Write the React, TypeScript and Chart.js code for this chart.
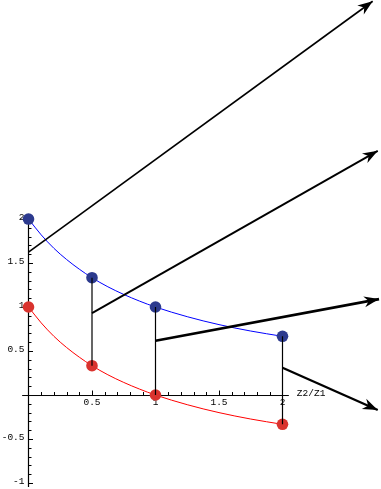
import React, { useEffect, useRef } from "react";
import { Chart, registerables } from "chart.js";

Chart.register(...registerables);

// Z2/Z1 ratios where the dots sit
const ratios = [0, 0.5, 1, 2];
const transmittedDots = [2, 1.333, 1, 0.667];
const reflectedDots = [1, 0.333, 0, -0.333];

// curve samples
const curveX = [0, 0.1, 0.2, 0.3, 0.4, 0.5, 0.625, 0.75, 0.875, 1, 1.25, 1.5, 1.75, 2];
const blueCurve = [2, 1.82, 1.667, 1.54, 1.43, 1.333, 1.23, 1.143, 1.067, 1, 0.89, 0.8, 0.727, 0.667];
const redCurve = [1, 0.82, 0.667, 0.54, 0.43, 0.333, 0.23, 0.143, 0.067, 0, -0.11, -0.2, -0.273, -0.333];

// vertical connectors (x positions)
const connectorX = [0.5, 1, 2];
const connectorTop = [1.333, 1, 0.667];
const connectorBottom = [0.333, 0, -0.333];

// arrows
const arrowStartX = [0, 0.5, 1, 2];
const arrowStartY = [1.625, 0.93, 0.617, 0.31];
const arrowEndX = [2.71, 2.75, 2.76, 2.75];
const arrowEndY = [4.475, 2.775, 1.09, -0.17];
const arrowWidths = [1.6, 1.9, 2.6, 2.3];

// axes
const xTickValues = [0.5, 1, 1.5, 2];
const xTickLabels = ["0.5", "1", "1.5", "2"];
const yTickValues = [-1, -0.5, 0.5, 1, 1.5, 2];
const yTickLabels = ["-1", "-0.5", "0.5", "1", "1.5", "2"];
const xAxisRange = [-0.05, 2.05];
const yAxisRange = [-1.045, 2.02];
const xAxisTitle = "Z2/Z1";

const axesPlugin = {
  id: "mmaAxes",
  beforeDatasetsDraw(chart: any) {
    const ctx = chart.ctx;
    const xs = chart.scales.x;
    const ys = chart.scales.y;
    const ox = xs.getPixelForValue(0);
    const oy = ys.getPixelForValue(0);
    ctx.save();
    ctx.strokeStyle = "#000";
    ctx.fillStyle = "#000";
    ctx.lineWidth = 1;
    // x axis
    ctx.beginPath();
    ctx.moveTo(xs.getPixelForValue(xAxisRange[0]), oy + 0.5);
    ctx.lineTo(xs.getPixelForValue(xAxisRange[1]), oy + 0.5);
    ctx.stroke();
    // y axis
    ctx.lineWidth = 1.2;
    ctx.beginPath();
    ctx.moveTo(ox, ys.getPixelForValue(yAxisRange[0]));
    ctx.lineTo(ox, ys.getPixelForValue(yAxisRange[1]));
    ctx.stroke();
    ctx.lineWidth = 1;
    // x ticks
    for (let i = 1; i <= 20; i++) {
      const v = i / 10;
      const major = i % 5 === 0;
      const px = Math.round(xs.getPixelForValue(v)) + 0.5;
      ctx.beginPath();
      ctx.moveTo(px, oy);
      ctx.lineTo(px, oy - (major ? 4.5 : 3));
      ctx.stroke();
    }
    // y ticks
    for (let i = -10; i <= 20; i++) {
      if (i === 0) continue;
      const v = i / 10;
      const major = i % 5 === 0;
      const py = Math.round(ys.getPixelForValue(v)) + 0.5;
      ctx.beginPath();
      ctx.moveTo(ox, py);
      ctx.lineTo(ox + (major ? 4.5 : 3), py);
      ctx.stroke();
    }
    ctx.font = "9.5px 'Liberation Mono', 'DejaVu Sans Mono', monospace";
    ctx.textAlign = "center";
    ctx.textBaseline = "top";
    xTickValues.forEach((v, i) => {
      ctx.fillText(xTickLabels[i], xs.getPixelForValue(v), oy + 3);
    });
    ctx.textAlign = "right";
    ctx.textBaseline = "middle";
    yTickValues.forEach((v, i) => {
      ctx.fillText(yTickLabels[i], ox - 4, ys.getPixelForValue(v) - 2);
    });
    ctx.textAlign = "left";
    ctx.textBaseline = "middle";
    ctx.fillText(xAxisTitle, xs.getPixelForValue(xAxisRange[1]) + 8, oy - 2);
    ctx.restore();
  },
};

const arrowHeadPlugin = {
  id: "arrowHeads",
  afterDatasetsDraw(chart: any) {
    const ctx = chart.ctx;
    chart.data.datasets.forEach((ds: any, i: number) => {
      if (!ds.isArrow) return;
      const pts = chart.getDatasetMeta(i).data;
      if (pts.length < 2) return;
      const a = pts[0];
      const b = pts[pts.length - 1];
      const ang = Math.atan2(b.y - a.y, b.x - a.x);
      const len = 15;
      const half = 5.5;
      const bx = b.x - len * Math.cos(ang);
      const by = b.y - len * Math.sin(ang);
      ctx.save();
      ctx.fillStyle = "#000";
      ctx.beginPath();
      ctx.moveTo(b.x, b.y);
      ctx.lineTo(bx + half * Math.sin(ang), by - half * Math.cos(ang));
      ctx.lineTo(bx + 0.3 * len * Math.cos(ang), by + 0.3 * len * Math.sin(ang));
      ctx.lineTo(bx - half * Math.sin(ang), by + half * Math.cos(ang));
      ctx.closePath();
      ctx.fill();
      ctx.restore();
    });
  },
};

export default function App() {
  const ref = useRef<HTMLCanvasElement | null>(null);
  useEffect(() => {
    if (!ref.current) return;
    const datasets: any[] = [];
    datasets.push({
      type: "line",
      data: curveX.map((x, i) => ({ x, y: blueCurve[i] })),
      borderColor: "#0000ff",
      borderWidth: 1,
      pointRadius: 0,
      cubicInterpolationMode: "monotone",
      fill: false,
      order: 6,
    });
    datasets.push({
      type: "line",
      data: curveX.map((x, i) => ({ x, y: redCurve[i] })),
      borderColor: "#ff0000",
      borderWidth: 1,
      pointRadius: 0,
      cubicInterpolationMode: "monotone",
      fill: false,
      order: 6,
    });
    datasets.push({
      type: "scatter",
      data: ratios.map((x, i) => ({ x, y: transmittedDots[i] })),
      backgroundColor: "#2c3a8e",
      borderWidth: 0,
      pointRadius: 5.8,
      order: 5,
    });
    datasets.push({
      type: "scatter",
      data: ratios.map((x, i) => ({ x, y: reflectedDots[i] })),
      backgroundColor: "#d9332e",
      borderWidth: 0,
      pointRadius: 5.8,
      order: 5,
    });
    connectorX.forEach((x, i) => {
      datasets.push({
        type: "line",
        data: [
          { x, y: connectorTop[i] },
          { x, y: connectorBottom[i] },
        ],
        borderColor: "#000",
        borderWidth: 1.2,
        pointRadius: 0,
        fill: false,
        order: 4,
      });
    });
    arrowStartX.forEach((x, i) => {
      datasets.push({
        type: "line",
        isArrow: true,
        data: [
          { x, y: arrowStartY[i] },
          { x: arrowEndX[i], y: arrowEndY[i] },
        ],
        borderColor: "#000",
        borderWidth: arrowWidths[i],
        pointRadius: 0,
        fill: false,
        clip: false,
        order: 3,
      });
    });
    const chart = new Chart(ref.current, {
      type: "scatter",
      data: { datasets },
      options: {
        animation: false,
        responsive: false,
        maintainAspectRatio: false,
        layout: { padding: 0, autoPadding: false },
        plugins: { legend: { display: false }, tooltip: { enabled: false } },
        scales: {
          x: { type: "linear", min: -0.2244, max: 2.7756, display: false },
          y: { type: "linear", min: -1.068, max: 4.489, display: false },
        },
      } as any,
      plugins: [axesPlugin, arrowHeadPlugin],
    });
    return () => chart.destroy();
  }, []);
  return (
    <div style={{ position: "fixed", left: 0, top: 0, width: 381, height: 489, background: "#fff" }}>
      <canvas ref={ref} width={381} height={489} style={{ display: "block" }} />
    </div>
  );
}
